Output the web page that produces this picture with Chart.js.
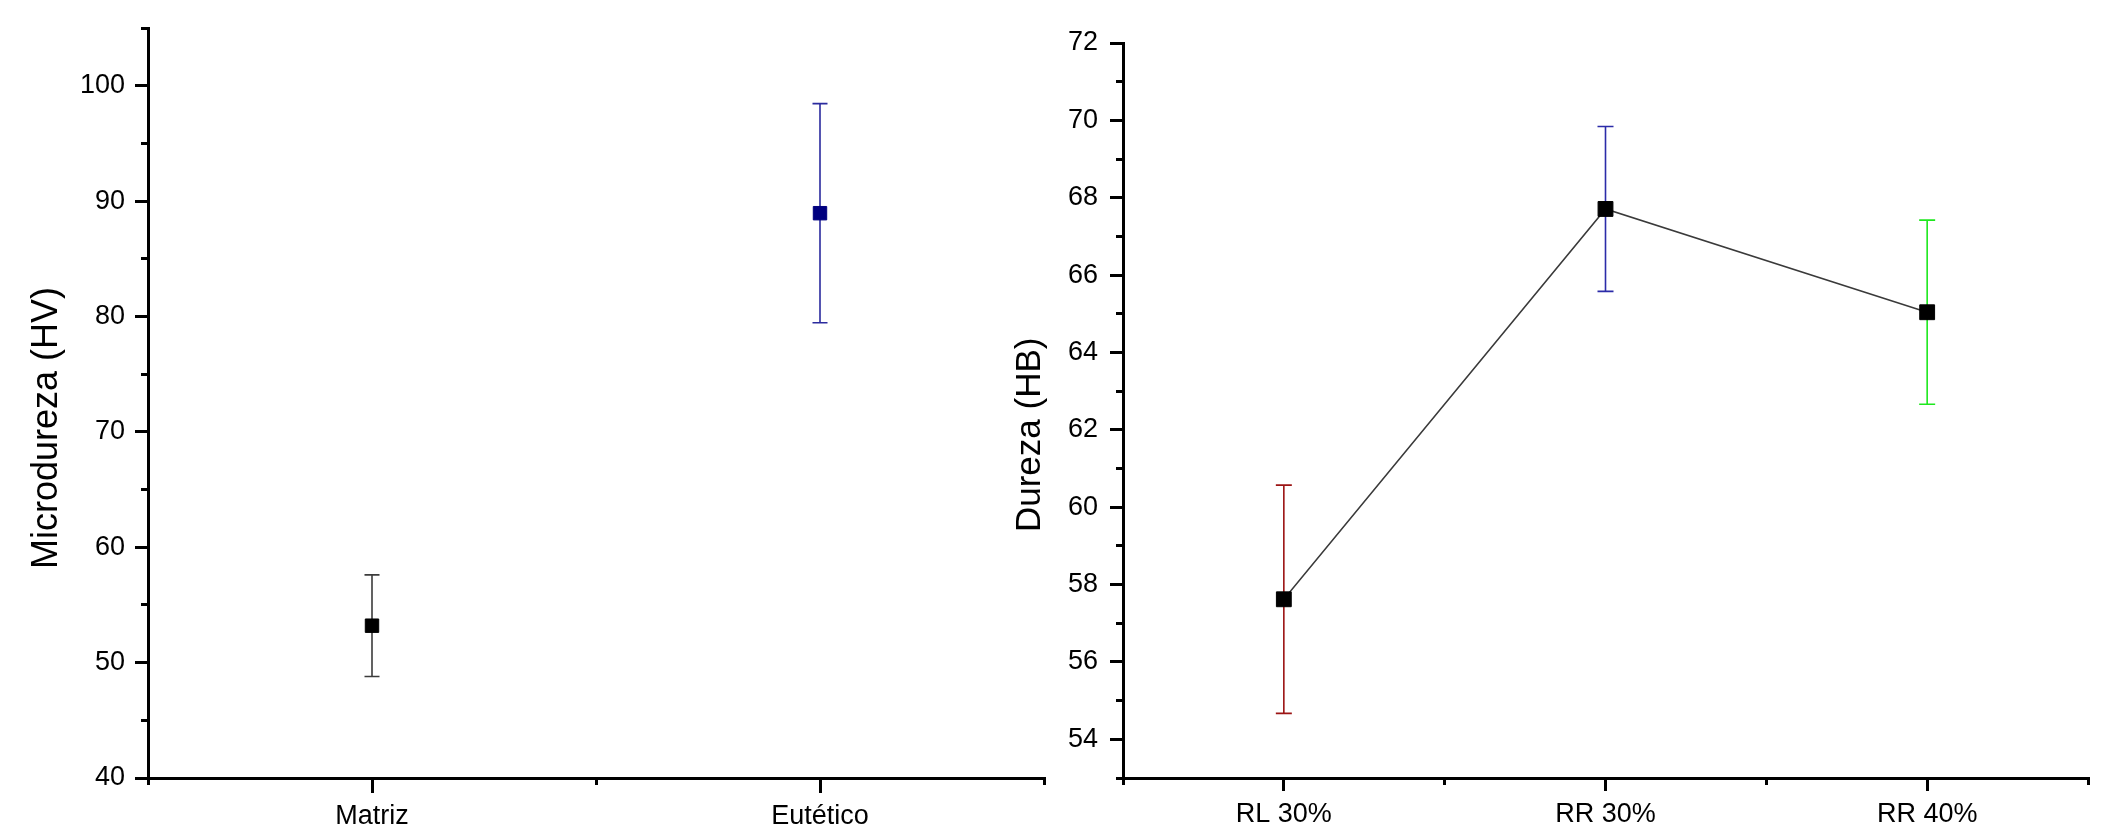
<!DOCTYPE html>
<html>
<head>
<meta charset="utf-8">
<script src="https://cdn.jsdelivr.net/npm/chart.js@4.4.1/dist/chart.umd.min.js"></script>
<style>
  html, body { margin: 0; padding: 0; background: #fff; }
  body { width: 2118px; height: 837px; position: relative; overflow: hidden; }
  canvas { position: absolute; top: 0; }
  #left  { left: 0; }
  #right { left: 980px; z-index: 2; }
</style>
</head>
<body>
<canvas id="left" width="1060" height="837"></canvas>
<canvas id="right" width="1138" height="837"></canvas>
<script>
// ===== DATA =====
const microCategories = ["Matriz", "Eutético"];
const microValues     = [53.2, 88.95];
const microErrors     = [4.4, 9.5];

const durezaCategories = ["RL 30%", "RR 30%", "RR 40%"];
const durezaValues     = [57.62, 67.71, 65.04];
const durezaErrors     = [2.95, 2.13, 2.38];

// ===== STYLE =====
const FONT = "'Liberation Sans', Arial, sans-serif";
const microBarColors    = ["#3c3c3c", "#2b2b9e"];
const microPointColors  = ["#000000", "#00007f"];
const durezaBarColors   = ["#9c1414", "#2b2ba8"];
durezaBarColors.push("#1ee81e");
const durezaPointColors = ["#000000", "#000000", "#000000"];

Chart.defaults.font.family = FONT;
Chart.defaults.color = "#000";

// ===== ERROR BARS (drawn under the markers) =====
const errorBars = {
  id: "errorBars",
  beforeDatasetsDraw(chart, args, opts) {
    const { ctx, scales } = chart;
    const x = scales.x, y = scales.y;
    chart.data.datasets[0].data.forEach((pt, i) => {
      const err = opts.errors[i];
      const px  = x.getPixelForValue(pt.x);
      const top = y.getPixelForValue(pt.y + err);
      const bot = y.getPixelForValue(pt.y - err);
      ctx.save();
      ctx.strokeStyle = opts.colors[i];
      ctx.lineWidth = 1.6;
      ctx.beginPath();
      ctx.moveTo(px, top); ctx.lineTo(px, bot);
      ctx.moveTo(px - opts.cap, top); ctx.lineTo(px + opts.cap, top);
      ctx.moveTo(px - opts.cap, bot); ctx.lineTo(px + opts.cap, bot);
      ctx.stroke();
      ctx.restore();
    });
  }
};

function stepTicks(from, to, step) {
  const out = [];
  for (let v = from; v <= to + 1e-9; v += step) out.push({ value: +v.toFixed(3) });
  return out;
}

function axisScales(cfg) {
  const n = cfg.cats.length;
  const tickFont = { size: 27, family: FONT };
  return {
    x: {
      type: "linear", position: "bottom", weight: 1,
      min: -0.5, max: n - 0.5,
      afterBuildTicks: s => { s.ticks = cfg.cats.map((c, i) => ({ value: i })); },
      afterFit: s => { s.height = 59; },
      ticks: { font: tickFont, padding: 7, maxRotation: 0, autoSkip: false,
               callback: v => cfg.cats[Math.round(v)] },
      grid: { drawOnChartArea: false, tickLength: cfg.xTick, lineWidth: 3, tickWidth: 3, tickColor: "#000", color: "#000" },
      border: { display: true, width: 3, color: "#000" }
    },
    xMinor: {
      type: "linear", position: "bottom", weight: 0,
      min: -0.5, max: n - 0.5,
      afterBuildTicks: s => { s.ticks = stepTicks(-0.5, n - 0.5, 1); },
      afterFit: s => { s.height = 0; },
      ticks: { display: false },
      grid: { drawOnChartArea: false, tickLength: 7, lineWidth: 3, tickWidth: 3, tickColor: "#000" },
      border: { display: false }
    },
    y: {
      type: "linear", position: "left", weight: 1,
      min: cfg.min, max: cfg.max,
      afterBuildTicks: s => { s.ticks = stepTicks(cfg.majorFrom, cfg.majorTo, cfg.major); },
      afterFit: s => { s.width = cfg.yWidth; },
      ticks: { font: tickFont, padding: cfg.labelPad },
      grid: { drawOnChartArea: false, tickLength: 13, lineWidth: 3, tickWidth: 3, tickColor: "#000", color: "#000" },
      border: { display: true, width: 3, color: "#000" },
      title: { display: true, text: cfg.title + "     ", font: { size: cfg.titleSize, family: FONT },
               padding: { top: cfg.titlePad, bottom: 0 } }
    },
    yMinor: {
      type: "linear", position: "left", weight: 0,
      min: cfg.min, max: cfg.max,
      afterBuildTicks: s => { s.ticks = stepTicks(cfg.min, cfg.max, cfg.minor); },
      afterFit: s => { s.width = 0; },
      ticks: { display: false },
      grid: { drawOnChartArea: false, tickLength: 7, lineWidth: 3, tickWidth: 3, tickColor: "#000" },
      border: { display: false }
    }
  };
}

// ===== LEFT: MICRODUREZA =====
new Chart(document.getElementById("left"), {
  type: "scatter",
  data: {
    datasets: [{
      data: microValues.map((v, i) => ({ x: i, y: v })),
      showLine: false,
      pointStyle: "rect",
      pointRadius: 9.5,
      pointBorderWidth: 1,
      pointBackgroundColor: microPointColors,
      pointBorderColor: microPointColors
    }]
  },
  options: {
    responsive: false, animation: false, devicePixelRatio: 1,
    layout: { padding: { top: 28, right: 16, left: 0, bottom: 0 } },
    plugins: {
      legend: { display: false }, tooltip: { enabled: false },
      errorBars: { errors: microErrors, colors: microBarColors, cap: 7.5 }
    },
    scales: axisScales({
      cats: microCategories, min: 40, max: 105, major: 10, majorFrom: 40, majorTo: 100, minor: 5,
      yWidth: 148, labelPad: 10, xTick: 15,
      title: "Microdureza (HV)", titleSize: 36, titlePad: 25
    })
  },
  plugins: [errorBars]
});

// ===== RIGHT: DUREZA =====
new Chart(document.getElementById("right"), {
  type: "scatter",
  data: {
    datasets: [{
      data: durezaValues.map((v, i) => ({ x: i, y: v })),
      showLine: true,
      borderColor: "#3a3a3a",
      borderWidth: 1.5,
      pointStyle: "rect",
      pointRadius: 10.5,
      pointBorderWidth: 1,
      pointBackgroundColor: durezaPointColors,
      pointBorderColor: durezaPointColors
    }]
  },
  options: {
    responsive: false, animation: false, devicePixelRatio: 1,
    layout: { padding: { top: 43, right: 30, left: 0, bottom: 0 } },
    plugins: {
      legend: { display: false }, tooltip: { enabled: false },
      errorBars: { errors: durezaErrors, colors: durezaBarColors, cap: 8 }
    },
    scales: axisScales({
      cats: durezaCategories, min: 53, max: 72, major: 2, majorFrom: 54, majorTo: 72, minor: 1,
      yWidth: 143, labelPad: 12, xTick: 13,
      title: "Dureza (HB)", titleSize: 35, titlePad: 29
    })
  },
  plugins: [errorBars]
});
</script>
</body>
</html>
